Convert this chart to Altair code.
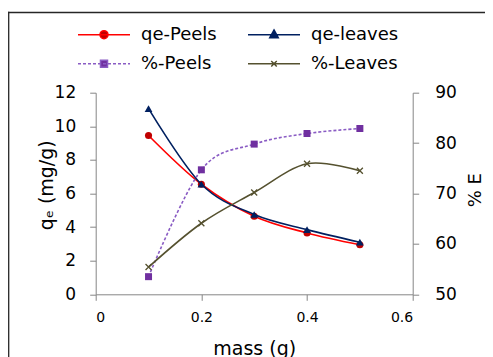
import altair as alt
import pandas as pd

# ---- data ----
mass = [0.1, 0.2, 0.3, 0.4, 0.5]
qe_peels = [9.45, 6.55, 4.65, 3.65, 2.95]
qe_leaves = [11.05, 6.55, 4.75, 3.85, 3.1]
pe_peels = [53.5, 74.7, 79.8, 81.9, 82.9]
pe_leaves = [55.4, 64.1, 70.2, 75.9, 74.5]

series_names = ["qe-Peels", "qe-leaves", "%-Peels", "%-Leaves"]
legend_order = ["qe-Peels", "%-Peels", "qe-leaves", "%-Leaves"]
x_ticks = [0, 0.2, 0.4, 0.6]
left_ticks = [0, 2, 4, 6, 8, 10, 12]
right_ticks = [50, 60, 70, 80, 90]

# ---- styles ----
line_colors = ["#FF0000", "#002060", "#8A5CC4", "#55512F"]
marker_colors = ["#C00000", "#002060", "#7030A0", "#55512F"]
FONT = "DejaVu Sans"
AX = "#868686"

X_PATH = "M-1,-1L1,1M-1,1L1,-1"
point_shapes = ["circle", "triangle-up", "square", X_PATH]
point_sizes = [50, 60, 49, 36]
point_filled = [True, True, True, False]


# legend symbols: line + marker (unit = 5px at symbolSize 100)
def dashed(x0, x1, dash, gap):
    parts, x = [], x0
    while x < x1:
        e = min(x + dash, x1)
        parts.append(f"M{x:.2f},0L{e:.2f},0")
        x = e + gap
    return "".join(parts)


SOLID = "M-5.2,0L5.2,0"
legend_paths = [
    SOLID + "M-0.8,0A0.8,0.8 0 1 0 0.8,0A0.8,0.8 0 1 0 -0.8,0Z",
    SOLID + "M0,-0.95L0.85,0.6L-0.85,0.6Z",
    dashed(-5.2, 5.2, 0.6, 0.4) + "M-0.7,-0.7L0.7,-0.7L0.7,0.7L-0.7,0.7Z",
    SOLID + "M-0.55,-0.55L0.55,0.55M-0.55,0.55L0.55,-0.55",
]
idx = [series_names.index(s) for s in legend_order]

rows = []
for name, vals in zip(series_names, [qe_peels, qe_leaves, pe_peels, pe_leaves]):
    for m, v in zip(mass, vals):
        rows.append({"mass": m, "series": name, "value": v})
df = pd.DataFrame(rows)

x_enc = alt.X(
    "mass:Q",
    scale=alt.Scale(domain=[0, 0.6], nice=False, zero=False),
    axis=alt.Axis(values=x_ticks, format="~g", title="mass (g)", grid=False,
                  labelFontSize=14, titleFontSize=19, tickSize=6, labelPadding=10,
                  titleY=59.7, titleBaseline="alphabetic"),
)
yl = alt.Y(
    "value:Q",
    scale=alt.Scale(domain=[0, 12], nice=False, zero=False),
    axis=alt.Axis(values=left_ticks, title="qₑ (mg/g)", orient="left", grid=False,
                  labelFontSize=17, titleFontSize=19, tickSize=6, labelPadding=14,
                  titleAngle=270, titleX=-48.7, titleY=92, titleBaseline="middle",
                  titleAlign="center"),
)
yr = alt.Y(
    "value:Q",
    scale=alt.Scale(domain=[50, 90], nice=False, zero=False),
    axis=alt.Axis(values=right_ticks, title="% E", orient="right", grid=False,
                  labelFontSize=17, titleFontSize=18, tickSize=6, labelPadding=16,
                  titleAngle=270, titleX=62.3, titleY=97, titleBaseline="middle",
                  titleAlign="center"),
)

base = alt.Chart(df)


def series_layers(i, yenc):
    sub = base.transform_filter(alt.datum.series == series_names[i])
    lkw = dict(interpolate="cardinal", color=line_colors[i], strokeWidth=1.6)
    if i == 2:
        lkw["strokeDash"] = [3, 2]
    line = sub.mark_line(**lkw).encode(x=x_enc, y=yenc)
    pkw = dict(shape=point_shapes[i], size=point_sizes[i], filled=point_filled[i],
               color=marker_colors[i], opacity=1)
    if not point_filled[i]:
        pkw["strokeWidth"] = 1.3
    pts = sub.mark_point(**pkw).encode(x=x_enc, y=yenc)
    return [line, pts]


leg = alt.Legend(title=None, orient="none", legendX=-17.7, legendY=-67, columns=2,
                 columnPadding=28, rowPadding=11, symbolSize=100, symbolStrokeWidth=1.5,
                 symbolOffset=17, labelOffset=28, labelFontSize=18, labelFont=FONT,
                 labelColor="black", padding=0, symbolOpacity=1, labelLimit=300)

legend_layer = base.transform_filter("datum.mass < 0").mark_point(filled=True, opacity=1).encode(
    color=alt.Color("series:N", scale=alt.Scale(domain=legend_order, range=[marker_colors[i] for i in idx]), legend=leg),
    stroke=alt.Stroke("series:N", scale=alt.Scale(domain=legend_order, range=[line_colors[i] for i in idx]), legend=leg),
    shape=alt.Shape("series:N", scale=alt.Scale(domain=legend_order, range=[legend_paths[i] for i in idx]), legend=leg),
)

frame_df = pd.DataFrame({"k": [0]})
frame_left = alt.Chart(frame_df).mark_rule(color="#262626", strokeWidth=1.3).encode(
    x=alt.value(-87.0), y=alt.value(-80.9), y2=alt.value(400))
frame_top = alt.Chart(frame_df).mark_rule(color="#262626", strokeWidth=1.3).encode(
    x=alt.value(-87.6), x2=alt.value(500), y=alt.value(-80.2))

left = alt.layer(*series_layers(0, yl), *series_layers(1, yl), legend_layer, frame_left, frame_top)
right = alt.layer(*series_layers(2, yr), *series_layers(3, yr))

chart = alt.layer(left, right).resolve_scale(y="independent").properties(
    width=317, height=201.6,
    autosize=alt.AutoSizeParams(type="none"),
    padding={"left": 87.7, "top": 84.7, "right": 72.3, "bottom": 62.7},
).configure_view(stroke=None).configure_axis(
    domainColor=AX, tickColor=AX, labelFont=FONT, titleFont=FONT,
    labelColor="black", titleColor="black", titleFontWeight="normal",
    domainWidth=1, tickWidth=1,
)

chart.save("out.html", embed_options={"renderer": "svg", "actions": False})
